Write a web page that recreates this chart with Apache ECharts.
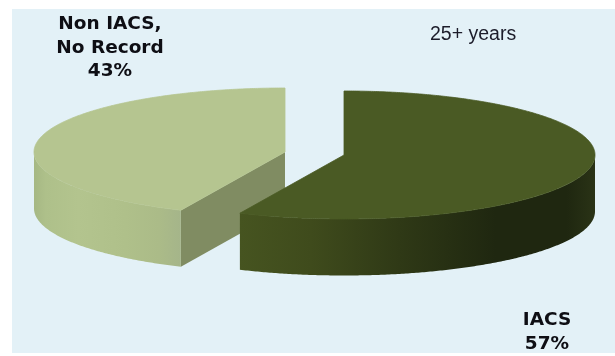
<!DOCTYPE html>
<html><head><meta charset="utf-8">
<style>html,body{margin:0;padding:0;background:#fff}#c{width:615px;height:356px}</style>
<script src="https://cdn.jsdelivr.net/npm/echarts@6/dist/echarts.min.js"></script>
</head><body><div id="c"></div>
<script>
// Data
var categories = ['Non IACS,\nNo Record', 'IACS'];
var values = [43, 57];
var chartNote = '25+ years';

// Styles and layout
var topColors = ['#B5C590', '#4A5A24'];
var faceColors = ['#808C62', '#2E3716'];
var wallStops = [
  [[0, '#A6B884'], [0.08, '#AEC08A'], [0.3, '#B3C48E'], [0.62, '#AFC08A'], [0.85, '#ABBB88'], [1, '#A5B58A']],
  [[0, '#465420'], [0.2, '#3F4B1C'], [0.45, '#2F3916'], [0.72, '#1F2710'], [0.92, '#1F2710'], [1, '#2A3316']]
];
var centers = [[285, 152], [344, 155]];
var labelPos = [[110, 48], [547, 332]];
var rx = 251, ry = 64, depth = 56.5;
var viewWarp = -0.9; // slight perspective skew of the projected angles
var total = values.reduce(function (a, b) { return a + b; }, 0);

function spans() {
  var out = [], acc = 0;
  for (var i = values.length - 1; i >= 0; i--) {
    var s = acc / total * 360;
    acc += values[i];
    out[i] = [s, acc / total * 360];
  }
  return out;
}
var sliceSpans = spans();
function pt(c, deg, dy) {
  var r = (deg + viewWarp * Math.sin(2 * deg * Math.PI / 180)) * Math.PI / 180;
  return [c[0] + rx * Math.sin(r), c[1] - ry * Math.cos(r) + (dy || 0)];
}
function arc(c, a, b, dy) {
  var pts = [], n = Math.max(2, Math.ceil(Math.abs(b - a) * 2));
  for (var i = 0; i <= n; i++) pts.push(pt(c, a + (b - a) * i / n, dy));
  return pts;
}
function renderItem(params, api) {
  var i = params.dataIndex, c = centers[i], sp = sliceSpans[i], kids = [];
  var sRad = sp[0] * Math.PI / 180, eRad = sp[1] * Math.PI / 180;
  function cut(deg) {
    var e = pt(c, deg);
    kids.push({ type: 'polygon', shape: { points: [c, e, [e[0], e[1] + depth], [c[0], c[1] + depth]] },
      style: { fill: faceColors[i] } });
  }
  if (Math.sin(sRad) < -1e-6) cut(sp[0]);
  if (Math.sin(eRad) > 1e-6) cut(sp[1]);
  var a = Math.max(sp[0], 90), b = Math.min(sp[1], 270);
  if (b > a) {
    kids.push({ type: 'polygon',
      shape: { points: arc(c, a, b, 0).concat(arc(c, b, a, depth)) },
      style: { fill: new echarts.graphic.LinearGradient(0, 0, 1, 0,
        wallStops[i].map(function (s) { return { offset: s[0], color: s[1] }; })) } });
  }
  kids.push({ type: 'polygon', shape: { points: [c].concat(arc(c, sp[0], sp[1], 0)) },
    style: { fill: topColors[i], stroke: topColors[i], lineWidth: 0.8, lineJoin: 'round' } });
  kids.push({ type: 'text', x: labelPos[i][0], y: labelPos[i][1],
    style: { text: categories[i] + '\n' + api.value(0) + '%', align: 'center', verticalAlign: 'middle',
      fill: '#0E0E14', font: 'bold 18.5px "DejaVu Sans"', lineHeight: 23.5 } });
  return { type: 'group', children: kids };
}

var chart = echarts.init(document.getElementById('c'), null, { renderer: 'canvas' });
chart.setOption({
  backgroundColor: '#FFFFFF',
  animation: false,
  title: { text: chartNote, left: 430, top: 25, padding: 0,
    textStyle: { fontFamily: 'Liberation Sans', fontSize: 19.5, fontWeight: 'normal', color: '#1C1C2A' } },
  graphic: [{ type: 'rect', z: -10, shape: { x: 12, y: 9, width: 603, height: 344 }, style: { fill: '#E3F1F7' } }],
  series: [{
    type: 'custom', coordinateSystem: 'none', silent: true, renderItem: renderItem,
    data: values.map(function (v, i) { return { value: [v], name: categories[i] }; })
  }]
});
</script></body></html>
